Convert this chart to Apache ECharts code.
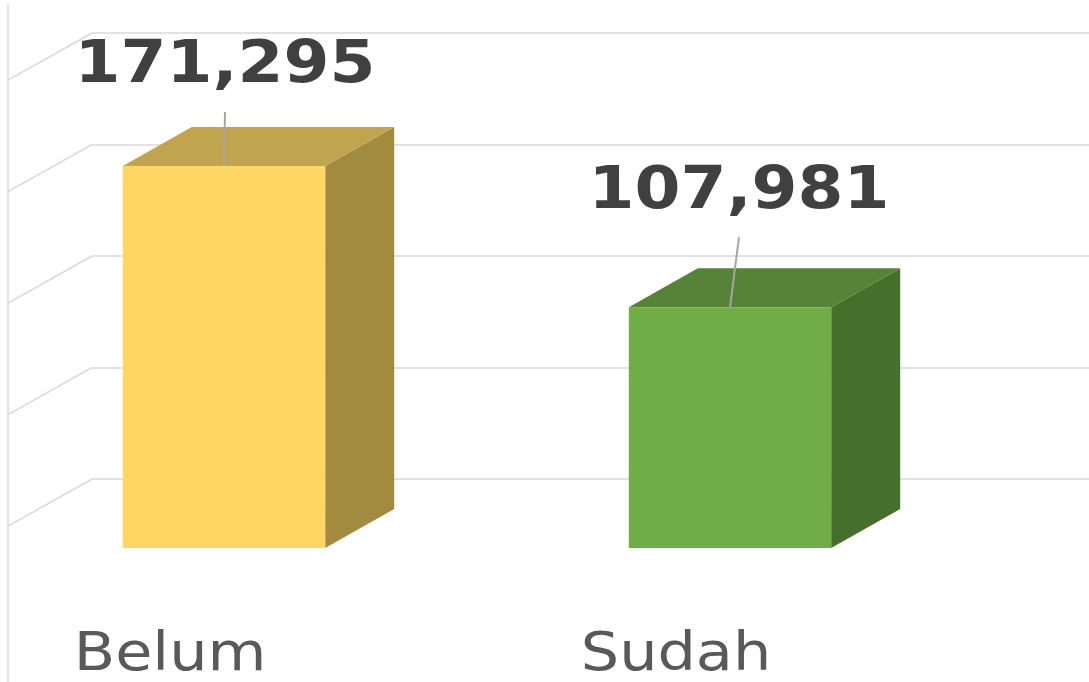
<!DOCTYPE html>
<html>
<head>
<meta charset="utf-8">
<script src="https://cdn.jsdelivr.net/npm/echarts@6/dist/echarts.min.js"></script>
<style>
  html, body { margin: 0; padding: 0; background: #fff; }
  #main { width: 1089px; height: 682px; }
</style>
</head>
<body>
<div id="main"></div>
<script>
// data
var categories = ['Belum', 'Sudah'];
var values = [171295, 107981];
var wallTicks = [0, 50000, 100000, 150000, 200000];

// looks
var frontColors = ['#fdd663', '#70ad47'];
var topColors = ['#c0a54e', '#568337'];
var sideColors = ['#a28a3e', '#476f2c'];
var labelShift = [[1, -99], [9, -115]]; // data labels were dragged by hand
var barDepth = [69, -39];
var wallDepth = [123, -69];
var textStretch = 1.12;
var cropX = 8;

var chart = echarts.init(document.getElementById('main'), null, { renderer: 'canvas' });

function fmt(v) {
  return Math.round(v).toLocaleString('en-US');
}

function renderBar(params, api) {
  var i = params.dataIndex;
  var top = api.coord([api.value(0), api.value(1)]);
  var base = api.coord([api.value(0), 0]);
  var half = api.size([1, 0])[0] * 0.4 / 2;
  var xl = top[0] - half, xr = top[0] + half;
  var yt = top[1], yb = base[1];
  var dx = barDepth[0], dy = barDepth[1];
  var lx = top[0] + labelShift[i][0], ly = yt + labelShift[i][1];
  return {
    type: 'group',
    children: [
      { type: 'polygon', shape: { points: [[xr, yt], [xr + dx, yt + dy], [xr + dx, yb + dy], [xr, yb]] }, style: { fill: sideColors[i] } },
      { type: 'polygon', shape: { points: [[xl, yt], [xr, yt], [xr + dx, yt + dy], [xl + dx, yt + dy]] }, style: { fill: topColors[i] } },
      { type: 'rect', shape: { x: xl, y: yt, width: xr - xl, height: yb - yt }, style: { fill: frontColors[i] } },
      // leader line
      { type: 'line', shape: { x1: top[0], y1: yt, x2: lx, y2: ly + 45 }, style: { stroke: '#a6a6a6', lineWidth: 2 } },
      {
        type: 'text', x: lx, y: ly, scaleX: textStretch,
        style: { text: fmt(api.value(1)), fill: '#404040', font: 'bold 59px "DejaVu Sans"', align: 'center', verticalAlign: 'middle' }
      },
      // category name sits on the front edge of the floor
      {
        type: 'text', x: top[0] - 54, y: yb + 108, scaleX: textStretch,
        style: { text: categories[i], fill: '#595959', font: '54px "DejaVu Sans"', align: 'center', verticalAlign: 'middle' }
      }
    ]
  };
}

function renderWall(params, api) {
  var p = api.coord([0, api.value(1)]);
  var x0 = params.coordSys.x;
  var run = x0 - cropX;
  var slope = -wallDepth[1] / wallDepth[0];
  return {
    type: 'line',
    shape: { x1: x0, y1: p[1], x2: cropX, y2: p[1] + run * slope },
    style: { stroke: '#d9d9d9', lineWidth: 1.5 }
  };
}

var option = {
  animation: false,
  backgroundColor: '#ffffff',
  grid: [
    // front plane of the bars
    { left: cropX, right: 106, top: 102, bottom: 134 },
    // back wall, pushed back by wallDepth
    { left: 92, right: 0, top: 102 + wallDepth[1], bottom: 134 - wallDepth[1] }
  ],
  xAxis: [
    // one unit per category, left edge cut off like the source
    { type: 'value', min: -0.4269, max: 1.5, gridIndex: 0, show: false },
    { type: 'value', min: 0, max: 1, gridIndex: 1, show: false }
  ],
  yAxis: [
    { type: 'value', min: 0, max: 200000, interval: 50000, gridIndex: 0, show: false },
    {
      type: 'value', min: 0, max: 200000, interval: 50000, gridIndex: 1,
      axisLine: { show: false }, axisTick: { show: false }, axisLabel: { show: false },
      splitLine: { show: true, lineStyle: { color: '#d9d9d9', width: 1.5 } }
    }
  ],
  graphic: [
    { type: 'line', shape: { x1: cropX, y1: 4, x2: cropX, y2: 682 }, style: { stroke: '#d6d6ee', lineWidth: 1.5 }, z: 0 }
  ],
  series: [
    {
      type: 'custom', name: 'wall', xAxisIndex: 1, yAxisIndex: 1, clip: false, silent: true,
      renderItem: renderWall,
      data: wallTicks.map(function (v) { return [0, v]; }),
      z: 1
    },
    {
      type: 'custom', name: 'Jumlah', xAxisIndex: 0, yAxisIndex: 0, clip: false,
      renderItem: renderBar,
      data: values.map(function (v, i) { return [i, v]; }),
      z: 5
    }
  ]
};

chart.setOption(option);
</script>
</body>
</html>
